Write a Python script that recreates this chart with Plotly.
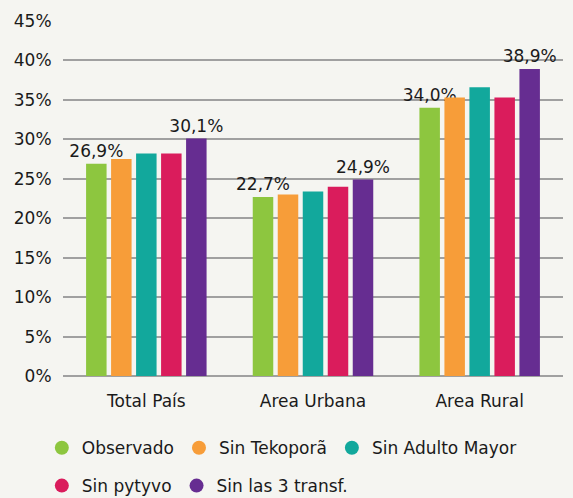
import plotly.graph_objects as go

categories = ["Total País", "Area Urbana", "Area Rural"]
series_names = ["Observado", "Sin Tekoporã", "Sin Adulto Mayor", "Sin pytyvo", "Sin las 3 transf."]
observado = [26.9, 22.7, 34.0]
sin_tekopora = [27.5, 23.0, 35.3]
sin_adulto_mayor = [28.2, 23.4, 36.6]
sin_pytyvo = [28.2, 24.0, 35.3]
sin_las_3 = [30.1, 24.9, 38.9]
series_values = [observado, sin_tekopora, sin_adulto_mayor, sin_pytyvo, sin_las_3]
labeled = [True, False, False, False, True]
colors = ["#8dc63f", "#f79d39", "#12a89c", "#da1c5c", "#662d91"]
tick_vals = [0, 5, 10, 15, 20, 25, 30, 35, 40, 45]
tick_text = [f"{v}%" for v in tick_vals]

FONT = "DejaVu Sans"
TXT = "#1a1a1a"
BG = "#f5f5f1"

fig = go.Figure()
for i, (name, vals) in enumerate(zip(series_names, series_values)):
    fig.add_trace(go.Bar(
        x=categories, y=vals, name=name, marker_color=colors[i],
        marker_line_width=0, showlegend=False,
        text=[f"{v:.1f}%".replace(".", ",") for v in vals] if labeled[i] else None,
        textposition="outside" if labeled[i] else "none",
        constraintext="none",
        textfont=dict(family=FONT, size=17, color=TXT),
        cliponaxis=False,
    ))
# legend entries with circle markers
for i, name in enumerate(series_names):
    fig.add_trace(go.Scatter(
        x=[None], y=[None], mode="markers", name=name,
        marker=dict(symbol="circle", size=14, color=colors[i]),
        legend="legend" if i < 3 else "legend2",
    ))

fig.update_layout(
    width=573, height=498,
    margin=dict(l=63, r=10, t=21, b=122, autoexpand=False),
    paper_bgcolor=BG, plot_bgcolor=BG,
    barmode="group", bargap=0.25, bargroupgap=0.18,
    font=dict(family=FONT, size=17, color=TXT),
    legend=dict(orientation="h", xref="container", yref="container",
                x=0.073, xanchor="left", y=0.1, yanchor="middle",
                font=dict(family=FONT, size=17, color=TXT), bgcolor="rgba(0,0,0,0)",
                itemclick=False, tracegroupgap=0),
    legend2=dict(orientation="h", xref="container", yref="container",
                 x=0.073, xanchor="left", y=0.024, yanchor="middle",
                 font=dict(family=FONT, size=17, color=TXT), bgcolor="rgba(0,0,0,0)",
                 itemclick=False),
)
fig.update_xaxes(showgrid=False, showline=False, zeroline=False,
                 ticks="outside", ticklen=10, tickcolor="rgba(0,0,0,0)",
                 tickfont=dict(family=FONT, size=17, color=TXT),
                 automargin=False, fixedrange=True)
fig.update_yaxes(range=[0, 45], tickvals=tick_vals, ticktext=tick_text,
                 showgrid=True, gridcolor="#a0a0a0", gridwidth=1.5,
                 zeroline=True, zerolinecolor="#a0a0a0", zerolinewidth=2,
                 showline=False, ticks="outside", ticklen=7,
                 tickcolor="rgba(0,0,0,0)",
                 tickfont=dict(family=FONT, size=17, color=TXT),
                 automargin=False, fixedrange=True)

fig.write_html("out.html", config={"displayModeBar": False},
               post_script="document.body.style.margin='0';document.body.style.background='%s';" % BG)
